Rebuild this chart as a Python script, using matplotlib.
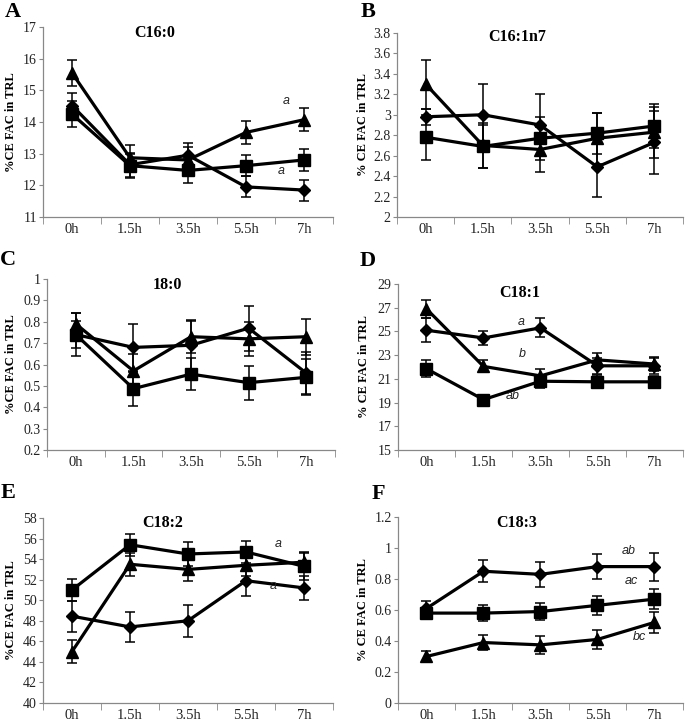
import matplotlib.pyplot as plt
from matplotlib.ticker import FixedLocator

times = ["0h", "1.5h", "3.5h", "5.5h", "7h"]
x = list(range(len(times)))

# A  C16:0
a_diamond = [14.52, 12.65, 12.95, 11.95, 11.85]
a_diamond_err = [0.38, 0.38, 0.40, 0.33, 0.33]
a_square = [14.25, 12.62, 12.47, 12.62, 12.80]
a_square_err = [0.40, 0.38, 0.40, 0.33, 0.35]
a_triangle = [15.55, 12.87, 12.80, 13.67, 14.07]
a_triangle_err = [0.42, 0.40, 0.40, 0.36, 0.36]

# B  C16:1n7
b_diamond = [2.98, 3.00, 2.90, 2.49, 2.73]
b_diamond_err = [0.08, 0.30, 0.30, 0.29, 0.31]
b_square = [2.78, 2.69, 2.77, 2.82, 2.89]
b_square_err = [0.22, 0.21, 0.21, 0.20, 0.22]
b_triangle = [3.30, 2.70, 2.66, 2.77, 2.83]
b_triangle_err = [0.24, 0.22, 0.22, 0.25, 0.25]

# C  18:0
c_diamond = [0.74, 0.68, 0.69, 0.77, 0.56]
c_diamond_err = [0.10, 0.11, 0.12, 0.105, 0.10]
c_square = [0.74, 0.487, 0.555, 0.515, 0.54]
c_square_err = [0.065, 0.08, 0.075, 0.08, 0.085]
c_triangle = [0.79, 0.57, 0.73, 0.72, 0.73]
c_triangle_err = [0.05, 0.08, 0.075, 0.08, 0.085]

# D  C18:1
d_diamond = [25.1, 24.45, 25.3, 22.1, 22.1]
d_diamond_err = [1.0, 0.6, 0.8, 0.7, 0.7]
d_square = [21.85, 19.25, 20.8, 20.75, 20.75]
d_square_err = [0.7, 0.35, 0.55, 0.55, 0.5]
d_triangle = [26.9, 22.05, 21.25, 22.6, 22.25]
d_triangle_err = [0.75, 0.5, 0.6, 0.6, 0.6]

# E  C18:2
e_diamond = [48.45, 47.4, 48.0, 51.9, 51.2]
e_diamond_err = [1.5, 1.45, 1.55, 1.5, 1.15]
e_square = [51.0, 55.4, 54.5, 54.7, 53.3]
e_square_err = [1.1, 1.05, 1.15, 1.05, 1.3]
e_triangle = [45.0, 53.5, 53.0, 53.4, 53.7]
e_triangle_err = [1.15, 1.1, 1.15, 1.0, 1.0]

# F  C18:3
f_diamond = [0.61, 0.85, 0.83, 0.88, 0.88]
f_diamond_err = [0.05, 0.07, 0.08, 0.08, 0.09]
f_square = [0.58, 0.58, 0.59, 0.63, 0.67]
f_square_err = [0.03, 0.05, 0.055, 0.06, 0.065]
f_triangle = [0.30, 0.39, 0.375, 0.41, 0.52]
f_triangle_err = [0.035, 0.05, 0.06, 0.06, 0.07]

panels = [
    dict(letter="A", title="C16:0", ylabel="%CE FAC in TRL",
         pos=[0.0628, 0.6999, 0.4232, 0.2628], ylim=(11, 17), step=1,
         series=[(a_diamond, a_diamond_err), (a_square, a_square_err), (a_triangle, a_triangle_err)],
         notes=[(3.69, 14.65, "a"), (3.6, 12.46, "a")],
         title_xy=(0.386, 0.968), letter_xy=(13, 12), ylab_x=11),
    dict(letter="B", title="C16:1n7", ylabel="% CE FAC in TRL",
         pos=[0.5796, 0.6999, 0.4175, 0.2545], ylim=(2, 3.8), step=0.2,
         series=[(b_diamond, b_diamond_err), (b_square, b_square_err), (b_triangle, b_triangle_err)],
         notes=[],
         title_xy=(0.42, 0.978), letter_xy=(368, 12), ylab_x=363),
    dict(letter="C", title="18:0", ylabel="%CE FAC in TRL",
         pos=[0.0686, 0.3776, 0.4205, 0.2365], ylim=(0.2, 1), step=0.1,
         series=[(c_diamond, c_diamond_err), (c_square, c_square_err), (c_triangle, c_triangle_err)],
         notes=[],
         title_xy=(0.417, 0.965), letter_xy=(8, 260), ylab_x=11),
    dict(letter="D", title="C18:1", ylabel="% CE FAC in TRL",
         pos=[0.581, 0.3776, 0.416, 0.2296], ylim=(15, 29), step=2,
         series=[(d_diamond, d_diamond_err), (d_square, d_square_err), (d_triangle, d_triangle_err)],
         notes=[(1.66, 25.76, "a"), (1.69, 23.1, "b"), (1.52, 19.56, "ab")],
         title_xy=(0.428, 0.946), letter_xy=(368, 261), ylab_x=364),
    dict(letter="E", title="C18:2", ylabel="%CE FAC in TRL",
         pos=[0.0628, 0.0277, 0.4232, 0.2558], ylim=(40, 58), step=2,
         series=[(e_diamond, e_diamond_err), (e_square, e_square_err), (e_triangle, e_triangle_err)],
         notes=[(3.55, 55.5, "a"), (3.47, 51.35, "a")],
         title_xy=(0.414, 0.973), letter_xy=(8, 493), ylab_x=11),
    dict(letter="F", title="C18:3", ylabel="% CE FAC in TRL",
         pos=[0.581, 0.0277, 0.416, 0.2572], ylim=(0, 1.2), step=0.2,
         series=[(f_diamond, f_diamond_err), (f_square, f_square_err), (f_triangle, f_triangle_err)],
         notes=[(3.55, 0.98, "ab"), (3.6, 0.787, "ac"), (3.73, 0.427, "bc")],
         title_xy=(0.417, 0.968), letter_xy=(378, 494), ylab_x=363),
]

markers = [("D", 6.5), ("s", 8), ("^", 9)]
serif = "Liberation Serif"

W, H = 685, 723
fig = plt.figure(figsize=(W / 100, H / 100), dpi=100)

for p in panels:
    ax = fig.add_axes(p["pos"])
    for (vals, errs), (m, ms) in zip(p["series"], markers):
        ax.errorbar(x, vals, yerr=errs, color="black", lw=2.3, marker=m, ms=ms,
                    elinewidth=1.1, capsize=3.5, capthick=1.1)
    lo, hi = p["ylim"]
    ax.set_ylim(lo, hi)
    ax.set_xlim(-0.5, 4.5)
    n = int(round((hi - lo) / p["step"]))
    yt = [round(lo + i * p["step"], 2) for i in range(n + 1)]
    ax.set_yticks(yt)
    ax.set_yticklabels(["%g" % v for v in yt], family=serif, fontsize=10, color="#222222")
    ax.set_xticks(x)
    ax.set_xticklabels(times, family=serif, fontsize=10.5, color="#222222")
    ax.xaxis.set_minor_locator(FixedLocator([i - 0.5 for i in range(6)]))
    ax.tick_params(axis="x", which="major", length=0, pad=4)
    ax.tick_params(axis="x", which="minor", length=5, color="#888888", direction="out")
    ax.tick_params(axis="y", length=3, color="#888888", direction="out", pad=1.5)
    for s in ["top", "right"]:
        ax.spines[s].set_visible(False)
    for s in ["left", "bottom"]:
        ax.spines[s].set_color("#888888")
        ax.spines[s].set_linewidth(0.9)
    ax.text(p["title_xy"][0], p["title_xy"][1], p["title"], transform=ax.transAxes,
            ha="center", va="center", family=serif, fontweight="bold", fontsize=11.5)
    for nx, ny, t in p["notes"]:
        ax.text(nx, ny, t, ha="center", va="center", family="Liberation Sans",
                style="italic", fontsize=9, color="#222222")
    lx, ly = p["letter_xy"]
    fig.text(lx / W, 1 - ly / H, p["letter"], ha="center", va="center",
             family=serif, fontweight="bold", fontsize=16)
    b = p["pos"]
    fig.text(p["ylab_x"] / W, b[1] + b[3] / 2, p["ylabel"], rotation=90,
             ha="center", va="center", family=serif, fontweight="bold", fontsize=9)

fig.savefig("out.png", dpi=100)
